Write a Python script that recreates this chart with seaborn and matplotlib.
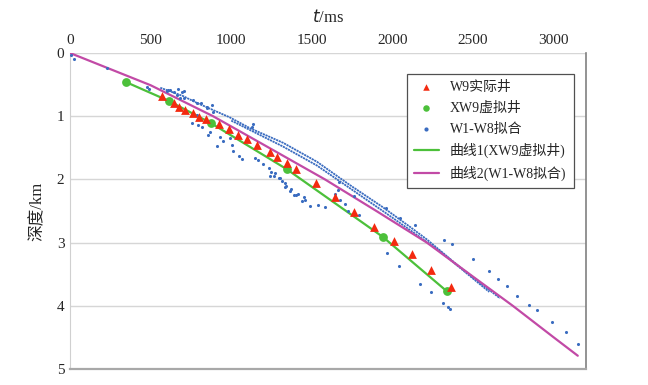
import matplotlib
matplotlib.use("Agg")
import matplotlib.pyplot as plt
import pandas as pd
import seaborn as sns

# W9 actual well (time ms, depth km)
w9_t = [570, 645, 676, 713, 763, 800, 843, 924, 986, 1042, 1097, 1159, 1240, 1283,
        1345, 1401, 1525, 1643, 1761, 1885, 2009, 2120, 2238, 2362]
w9_d = [0.68, 0.79, 0.85, 0.90, 0.95, 1.01, 1.04, 1.12, 1.20, 1.30, 1.36, 1.46, 1.57, 1.65,
        1.74, 1.84, 2.06, 2.28, 2.52, 2.75, 2.97, 3.18, 3.43, 3.70]

# XW9 virtual well points / curve 1
xw9_t = [347, 614, 874, 1345, 1940, 2337]
xw9_d = [0.46, 0.76, 1.11, 1.84, 2.91, 3.77]

# curve 2 (W1-W8 fit)
fit_t = [0, 500, 887, 1200, 1581, 1900, 2213, 2500, 2746, 3000, 3149]
fit_d = [0, 0.51, 1.00, 1.45, 2.00, 2.50, 3.00, 3.54, 4.00, 4.50, 4.79]

# W1-W8 scattered points
w18_t = [8, 25, 229, 477, 490, 602, 620, 670, 694, 707, 763, 849, 608, 645, 663, 682,
         707, 787, 812, 849, 880, 886, 787, 756, 794, 818, 868, 855, 930, 949, 992,
         1005, 911, 1011, 1048, 1067, 1147, 1166, 1197, 1234, 1246, 1265, 1296, 1314,
         1339, 1364, 1401, 1414, 1439, 1457, 1128, 1134, 1240, 1271, 1302, 1333, 1333,
         1370, 1389, 1450, 1488, 1537, 1581, 1667, 1643, 1661, 1724, 1761, 1674, 1704,
         1792, 1959, 2046, 2139, 2319, 2368, 1965, 2040, 2170, 2238, 2312, 2344, 2356,
         2499, 2598, 2654, 2710, 2772, 2846, 2896, 2989, 3075, 3149]
w18_d = [0.03, 0.10, 0.24, 0.54, 0.57, 0.60, 0.59, 0.57, 0.62, 0.60, 0.74, 0.85, 0.59,
         0.62, 0.66, 0.71, 0.71, 0.79, 0.79, 0.87, 0.82, 0.94, 0.98, 1.11, 1.14, 1.17,
         1.25, 1.30, 1.33, 1.40, 1.34, 1.46, 1.47, 1.55, 1.63, 1.68, 1.66, 1.69, 1.75,
         1.82, 1.88, 1.94, 1.97, 2.02, 2.11, 2.18, 2.25, 2.23, 2.34, 2.32, 1.17, 1.12,
         1.94, 1.90, 1.97, 2.06, 2.12, 2.15, 2.24, 2.28, 2.42, 2.41, 2.43, 2.04, 2.23,
         2.16, 2.50, 2.27, 2.32, 2.39, 2.57, 2.45, 2.61, 2.72, 2.96, 3.03, 3.17, 3.37,
         3.66, 3.78, 3.95, 4.02, 4.05, 3.26, 3.45, 3.58, 3.69, 3.85, 3.99, 4.07, 4.26,
         4.42, 4.61]

# dense band of W1-W8 points (two strands)
band1_t = [560, 700, 787, 992, 1116, 1321, 1531, 1736, 1940, 2108, 2213, 2400, 2666]
band1_d = [0.55, 0.68, 0.79, 1.02, 1.19, 1.42, 1.72, 2.09, 2.44, 2.75, 2.95, 3.35, 3.88]
band2_t = [1000, 1321, 1531, 1736, 1940, 2108, 2300, 2600]
band2_d = [1.07, 1.48, 1.78, 2.14, 2.50, 2.80, 3.15, 3.78]

RED = "#f32a10"
GREEN = "#4cc03a"
BLUE = "#3a6cc0"
MAGENTA = "#c24aa6"
FONTS = ["Liberation Serif", "Noto Sans CJK SC"]

sns.set_style("white")
plt.rcParams["font.family"] = FONTS

fig = plt.figure(figsize=(6.48, 3.85), dpi=100)
ax = fig.add_axes([70 / 648, 1 - 369 / 385, 516 / 648, 316 / 385])

for bt, bd in [(band1_t, band1_d), (band2_t, band2_d)]:
    ax.plot(bt, bd, color=BLUE, lw=1.3, ls=(0, (1.2, 0.4)), zorder=2)

sns.lineplot(x=fit_t, y=fit_d, ax=ax, color=MAGENTA, lw=1.6, sort=False,
             label="曲线2(W1-W8拟合)", zorder=3)
sns.lineplot(x=xw9_t, y=xw9_d, ax=ax, color=GREEN, lw=1.6, sort=False,
             label="曲线1(XW9虚拟井)", zorder=3)
sns.scatterplot(x=w18_t, y=w18_d, ax=ax, color=BLUE, s=5, marker="o",
                linewidth=0, label="W1-W8拟合", zorder=4)
sns.scatterplot(x=xw9_t, y=xw9_d, ax=ax, color=GREEN, s=40, marker="o",
                linewidth=0, label="XW9虚拟井", zorder=5)
sns.scatterplot(x=w9_t, y=w9_d, ax=ax, color=RED, s=40, marker="^",
                linewidth=0, label="W9实际井", zorder=6)

ax.set_xlim(0, 3200)
ax.set_ylim(5, 0)
ax.set_xticks([0, 500, 1000, 1500, 2000, 2500, 3000])
ax.set_yticks([0, 1, 2, 3, 4, 5])
ax.xaxis.tick_top()
ax.xaxis.set_label_position("top")
ax.tick_params(axis="both", length=0, labelsize=11, pad=4)
ax.set_xlabel("$t$/ms", fontsize=12, labelpad=9)
ax.set_ylabel("深度/km", fontsize=12, labelpad=8)
ax.grid(axis="y", color="#d6d6d6", lw=1)
ax.grid(axis="x", visible=False)

ax.spines["top"].set_visible(False)
ax.spines["left"].set_color("#d0d0d0")
ax.spines["bottom"].set_color("#a8a8a8")
ax.spines["bottom"].set_linewidth(1.6)
ax.spines["right"].set_color("#808080")
ax.spines["right"].set_linewidth(1.2)

handles, labels = ax.get_legend_handles_labels()
order = ["W9实际井", "XW9虚拟井", "W1-W8拟合", "曲线1(XW9虚拟井)", "曲线2(W1-W8拟合)"]
hmap = dict(zip(labels, handles))
leg = ax.legend([hmap[k] for k in order], order, loc="upper left",
                bbox_to_anchor=(407 / 648, 1 - 74 / 385), bbox_transform=fig.transFigure,
                borderaxespad=0, fancybox=False, framealpha=1, edgecolor="#505050",
                fontsize=10, handlelength=1.8, labelspacing=0.55, borderpad=0.5)
leg.get_frame().set_linewidth(0.9)
for h, size in zip(leg.legend_handles[:3], [22, 22, 9]):
    h.set_sizes([size])

fig.savefig("out.png", dpi=100)
